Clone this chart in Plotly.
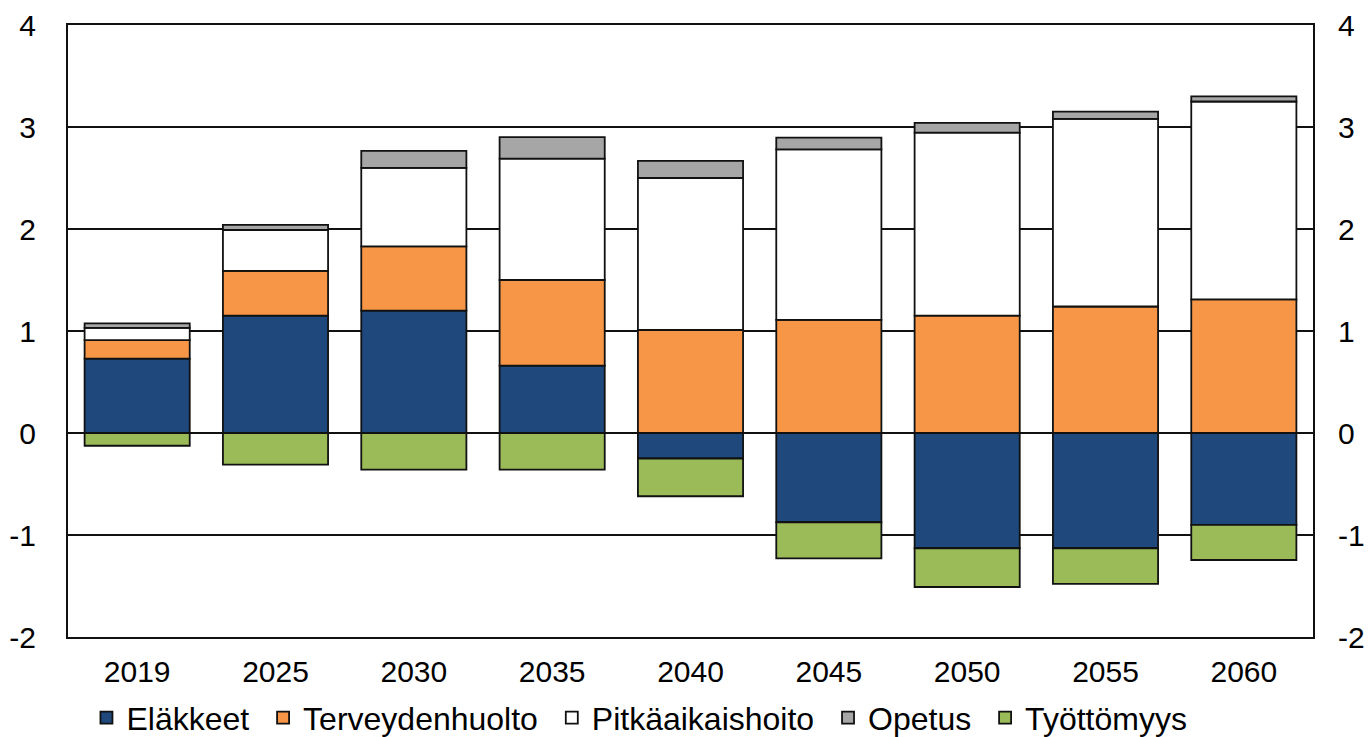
import plotly.graph_objects as go

years = ["2019", "2025", "2030", "2035", "2040", "2045", "2050", "2055", "2060"]
elakkeet = [0.73, 1.15, 1.20, 0.66, -0.25, -0.875, -1.13, -1.13, -0.90]
terveydenhuolto = [0.18, 0.44, 0.63, 0.84, 1.01, 1.11, 1.15, 1.24, 1.31]
pitkaaikaishoito = [0.12, 0.40, 0.77, 1.19, 1.49, 1.67, 1.795, 1.84, 1.94]
opetus = [0.045, 0.05, 0.165, 0.21, 0.167, 0.115, 0.095, 0.07, 0.05]
tyottomyys = [-0.125, -0.31, -0.36, -0.36, -0.37, -0.355, -0.38, -0.35, -0.345]

series = [
    ("Eläkkeet", elakkeet, "#1F497D"),
    ("Terveydenhuolto", terveydenhuolto, "#F79646"),
    ("Pitkäaikaishoito", pitkaaikaishoito, "#FFFFFF"),
    ("Opetus", opetus, "#A6A6A6"),
    ("Työttömyys", tyottomyys, "#9BBB59"),
]

tick_vals = [-2, -1, 0, 1, 2, 3, 4]
tick_text = ["-2", "-1", "0", "1", "2", "3", "4"]

FONT = "Liberation Sans, Arial, sans-serif"

fig = go.Figure()
for i, (name, vals, color) in enumerate(series):
    # a trailing no-break space widens the gap between legend entries
    label = name + ("\u00a0" if i < len(series) - 1 else "")
    fig.add_trace(go.Bar(
        x=years, y=vals, name=label,
        marker=dict(color=color, line=dict(color="#111111", width=1.8)),
    ))

# invisible trace to carry the right-hand axis
fig.add_trace(go.Scatter(x=[years[0]], y=[0], yaxis="y2", mode="markers",
                         marker=dict(opacity=0), showlegend=False, hoverinfo="skip"))

fig.update_layout(
    width=1370, height=737,
    barmode="relative",
    bargap=0.24,
    plot_bgcolor="white",
    paper_bgcolor="white",
    font=dict(family=FONT, size=30, color="#000000"),
    margin=dict(l=68, r=57, t=25, b=100, autoexpand=False),
    xaxis=dict(
        showline=True, linecolor="#111111", linewidth=2, mirror=True,
        ticks="", ticklabelstandoff=7,
        tickfont=dict(size=30),
    ),
    yaxis=dict(
        range=[-2, 4], tickvals=tick_vals, ticktext=tick_text,
        showgrid=True, gridcolor="#111111", gridwidth=1.8,
        zeroline=False,
        showline=True, linecolor="#111111", linewidth=2, mirror=True,
        ticks="", ticklabelstandoff=24,
        tickfont=dict(size=30),
    ),
    yaxis2=dict(
        range=[-2, 4], tickvals=tick_vals, ticktext=tick_text,
        overlaying="y", side="right", showgrid=False, zeroline=False,
        ticks="", ticklabelstandoff=24,
        tickfont=dict(size=30),
    ),
    legend=dict(
        orientation="h", x=0.459, xanchor="center",
        y=-0.132, yanchor="middle",
        font=dict(size=32), traceorder="normal",
        itemwidth=30,
    ),
)

fig.write_html("out.html", config={"displayModeBar": False},
               post_script="document.body.style.margin='0';")
